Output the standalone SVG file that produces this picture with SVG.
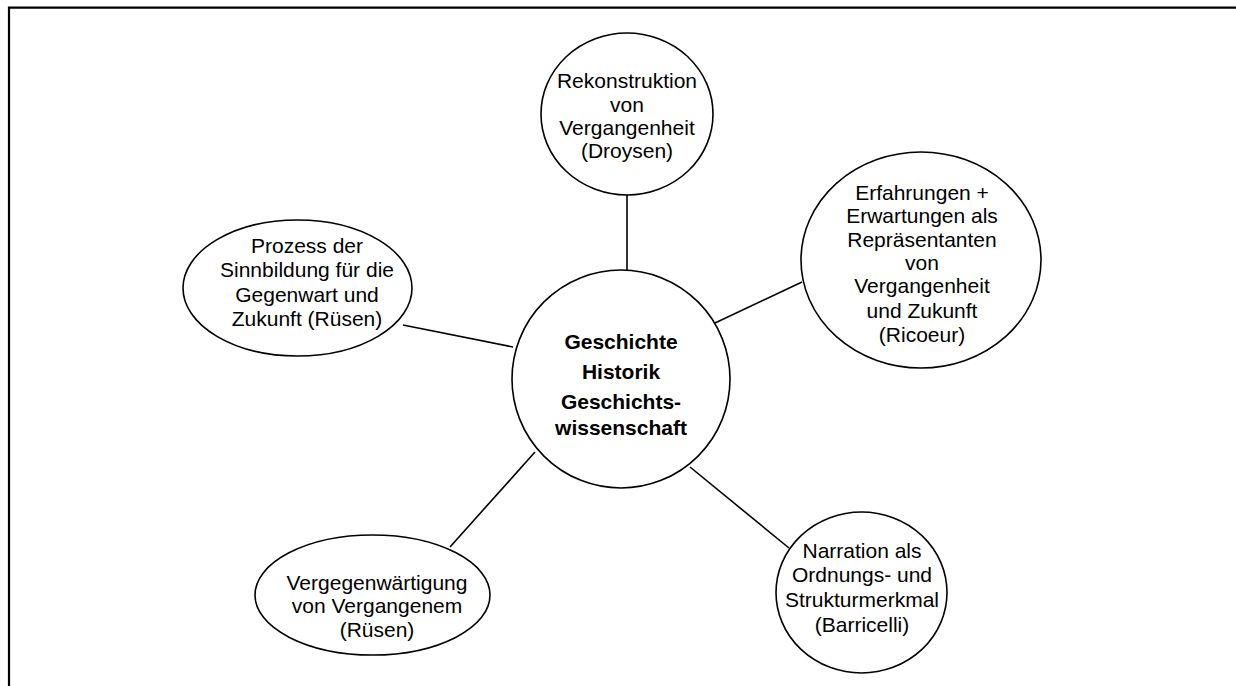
<svg xmlns="http://www.w3.org/2000/svg" width="1236" height="686" viewBox="0 0 1236 686">
  <style>
    .shape { fill: #ffffff; stroke: #000000; stroke-width: 1.6; }
    .link { stroke: #000000; stroke-width: 1.6; fill: none; }
    .frame { stroke: #000000; stroke-width: 2.2; fill: none; }
    text { font-family: "Liberation Sans", Arial, sans-serif; font-size: 21px; fill: #000000; text-anchor: middle; }
    .bold { font-weight: bold; }
  </style>
  <rect width="1236" height="686" fill="#ffffff"/>

  <!-- page frame: top and left edges -->
  <path class="frame" d="M9 686 V7.7 H1236"/>

  <!-- connectors -->
  <g id="connectors">
    <line class="link" x1="627" y1="195" x2="627" y2="270"/>
    <line class="link" x1="715" y1="323" x2="802" y2="282"/>
    <line class="link" x1="403" y1="325" x2="513" y2="347"/>
    <line class="link" x1="535" y1="452" x2="450" y2="547"/>
    <line class="link" x1="690" y1="467" x2="789" y2="548"/>
  </g>

  <g id="node-center">
    <circle class="shape" cx="621" cy="379" r="109"/>
    <text class="bold" x="621" y="349">Geschichte</text>
    <text class="bold" x="621" y="379">Historik</text>
    <text class="bold" x="621" y="409">Geschichts-</text>
    <text class="bold" x="621" y="435">wissenschaft</text>
  </g>

  <g id="node-droysen">
    <ellipse class="shape" cx="627" cy="114" rx="86" ry="81"/>
    <text x="627" y="88">Rekonstruktion</text>
    <text x="627" y="111.5">von</text>
    <text x="627" y="135">Vergangenheit</text>
    <text x="627" y="158">(Droysen)</text>
  </g>

  <g id="node-ricoeur">
    <ellipse class="shape" cx="921" cy="260" rx="120" ry="108"/>
    <text x="922" y="200">Erfahrungen +</text>
    <text x="922" y="223">Erwartungen als</text>
    <text x="922" y="247">Repräsentanten</text>
    <text x="922" y="270">von</text>
    <text x="922" y="293">Vergangenheit</text>
    <text x="922" y="318">und Zukunft</text>
    <text x="922" y="342">(Ricoeur)</text>
  </g>

  <g id="node-ruesen-sinn">
    <ellipse class="shape" cx="297.5" cy="288" rx="114.5" ry="68"/>
    <text x="307" y="253">Prozess der</text>
    <text x="307" y="277">Sinnbildung für die</text>
    <text x="307" y="302">Gegenwart und</text>
    <text x="307" y="326">Zukunft (Rüsen)</text>
  </g>

  <g id="node-ruesen-vergegenwaertigung">
    <ellipse class="shape" cx="372.5" cy="595" rx="117.5" ry="60"/>
    <text x="377" y="590">Vergegenwärtigung</text>
    <text x="377" y="613">von Vergangenem</text>
    <text x="377" y="637">(Rüsen)</text>
  </g>

  <g id="node-barricelli">
    <ellipse class="shape" cx="861.5" cy="592.5" rx="85.5" ry="80.5"/>
    <text x="862" y="558">Narration als</text>
    <text x="862" y="582">Ordnungs- und</text>
    <text x="862" y="607">Strukturmerkmal</text>
    <text x="862" y="632">(Barricelli)</text>
  </g>
</svg>
